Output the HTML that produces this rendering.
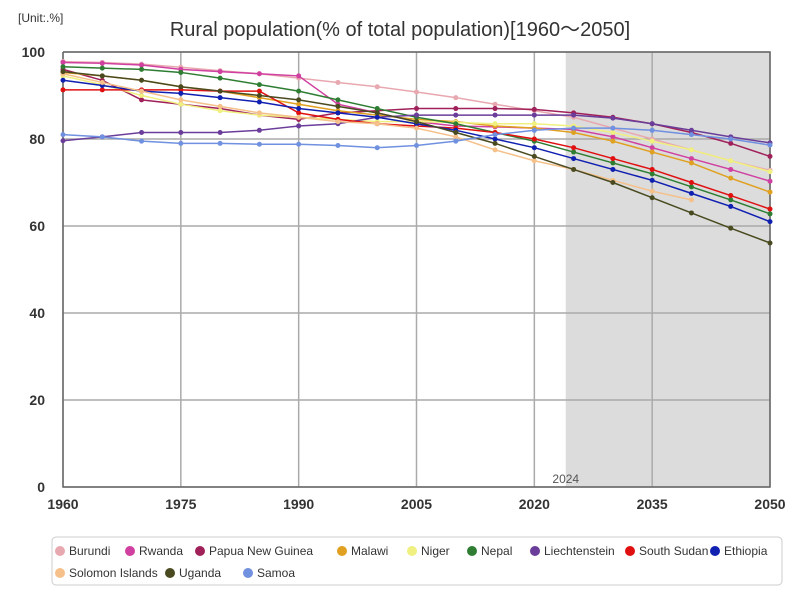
<!DOCTYPE html>
<html><head><meta charset="utf-8"><style>
body{margin:0;background:#fff;font-family:"Liberation Sans",sans-serif}
svg text{font-family:"Liberation Sans",sans-serif}
</style></head><body>
<svg id="c" width="800" height="600">
<text x="400" y="36" text-anchor="middle" font-size="20" fill="#333">Rural population(% of total population)[1960～2050]</text>
<text x="18" y="22" font-size="12" fill="#333">[Unit:.%]</text>
<g id="plot"></g>
<g id="legend"></g>
</svg>
<script>
const years=[1960,1965,1970,1975,1980,1985,1990,1995,2000,2005,2010,2015,2020,2025,2030,2035,2040,2045,2050];
const xTicks=[1960,1975,1990,2005,2020,2035,2050];
const yTicks=[0,20,40,60,80,100];
const names=["Burundi","Rwanda","Papua New Guinea","Malawi","Niger","Nepal","Liechtenstein","South Sudan","Ethiopia","Solomon Islands","Uganda","Samoa"];
const colors=["#e8a8b0","#d040a0","#a0205a","#e0a020","#f0f080","#2e7d32","#6a3d9a","#e01010","#1020b0","#f5c08a","#4a4a20","#7090e0"];
const burundi=[97.8,97.6,97.2,96.5,95.7,95,94,93,92,90.8,89.5,88,86.5,85,82.5,80,77.5,75,72.8];
const rwanda=[97.6,97.4,97,96,95.5,95,94.5,88,86,84,83,82.8,82.5,82.2,80.5,78,75.5,73,70.3];
const png=[96,93.5,89,88,87,85.5,84.5,86,86.5,87,87,87,86.8,86,85,83.5,81.5,79,76];
const malawi=[95.3,94.5,93.5,92,91,89.5,88,86.5,85.5,84.5,84,83,82.5,81.5,79.5,77,74.5,71,67.8];
const niger=[94.5,92.5,90,88,86.5,85.5,85,84.5,84,84,83.8,83.5,83.5,83,81.5,79.5,77.5,75,72.5];
const nepal=[96.6,96.3,96,95.3,94,92.5,91,89,87,85,83.5,81.5,79.5,77,74.5,72,69,66,62.8];
const liechtenstein=[79.6,80.5,81.5,81.5,81.5,82,83,83.5,85,85.5,85.5,85.5,85.5,85.5,84.8,83.5,82,80.5,79.1];
const southSudan=[91.3,91.3,91.3,91.3,91,91,86,84.5,83.5,83,82.5,81.5,80,78,75.5,73,70,67,63.9];
const ethiopia=[93.5,92.3,91,90.5,89.5,88.5,87,86,85,83.5,82,80,78,75.5,73,70.5,67.5,64.5,61];
const solomon=[95,93,91,89,87.5,86,85,84,83.5,82.5,80.5,77.5,75,73,70.5,68,66,null,null];
const uganda=[95.5,94.5,93.5,92,91,90,89,87.5,86,84,81.5,79,76,73,70,66.5,63,59.5,56.1];
const samoa=[81,80.5,79.5,79,79,78.8,78.8,78.5,78,78.5,79.5,81,82,82.5,82.5,82,81,80,78.6];
const series=[burundi,rwanda,png,malawi,niger,nepal,liechtenstein,southSudan,ethiopia,solomon,uganda,samoa];
const forecastStart=2024;
const NS="http://www.w3.org/2000/svg";
const L=63,R=770,T=52,B=487;
const x=v=>L+(v-1960)/(2050-1960)*(R-L);
const y=v=>B-v/100*(B-T);
function mk(tag,attrs,parent){const e=document.createElementNS(NS,tag);for(const k in attrs)e.setAttribute(k,attrs[k]);parent.appendChild(e);return e;}
const plot=document.getElementById('plot');
const shade=mk('rect',{x:x(forecastStart),y:T,width:R-x(forecastStart),height:B-T,fill:'#dcdcdc'},plot);


const fl=mk('text',{x:x(forecastStart),y:B-4,'text-anchor':'middle','font-size':12,fill:'#555'},plot);fl.textContent=String(forecastStart);


xTicks.forEach(t=>{
 const g=mk('line',{x1:x(t),x2:x(t),y1:T,y2:B,stroke:'#aaa','stroke-width':1.5},plot);
 
 
 const tx=mk('text',{x:x(t),y:B+22,'text-anchor':'middle','font-size':14,'font-weight':'bold',fill:'#333'},plot);tx.textContent=t;
 
 
});
yTicks.forEach(t=>{
 const g=mk('line',{x1:L,x2:R,y1:y(t),y2:y(t),stroke:'#aaa','stroke-width':1.5},plot);
 
 
 const tx=mk('text',{x:L-18,y:y(t)+5,'text-anchor':'end','font-size':14,'font-weight':'bold',fill:'#333'},plot);tx.textContent=t;
 
 
});
const ax=mk('path',{d:`M${L},${T}V${B}H${R}V${T}H${L}`,fill:'none',stroke:'#666','stroke-width':1.5},plot);


series.forEach((s,i)=>{
 const g=mk('g',{},plot);
 
 
 let d='';
 s.forEach((v,j)=>{if(v==null)return;d+=(d?'L':'M')+x(years[j])+','+y(v);});
 const p=mk('path',{d,fill:'none',stroke:colors[i],'stroke-width':1.5},g);
 
 
 s.forEach((v,j)=>{if(v==null)return;
  const c=mk('circle',{cx:x(years[j]),cy:y(v),r:2.5,fill:colors[i]},g);
  
  
 });
});
const lg=document.getElementById('legend');
const box=mk('rect',{x:52,y:537,width:730,height:48,fill:'#fff',stroke:'#ccc',rx:4},lg);


const lx=[60,130,200,342,412,472,535,630,715,60,170,248];
names.forEach((n,i)=>{
 const row=i<9?0:1;const yy=row?573:551;
 const g=mk('g',{},lg);
 
 
 mk('circle',{cx:lx[i],cy:yy,r:5,fill:colors[i]},g);
 const t=mk('text',{x:lx[i]+9,y:yy+4,'font-size':12,fill:'#333'},g);t.textContent=n;
});
</script>
</body></html>
